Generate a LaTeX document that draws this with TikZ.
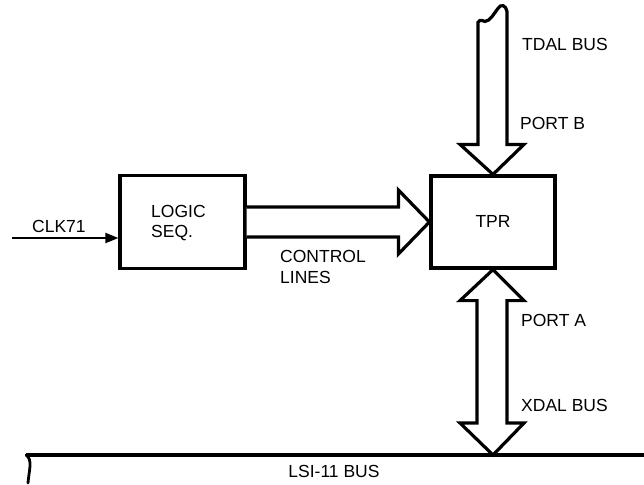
\documentclass[tikz,border=0pt]{standalone}
\usepackage{fontspec}
\setmainfont{Liberation Sans}
\usetikzlibrary{calc,arrows.meta}
\begin{document}
\begin{tikzpicture}[x=1pt,y=-1pt,
  txt/.style={font=\fontsize{17.5}{20.5}\selectfont,inner sep=0pt},
  box/.style={draw,line width=3.2pt,minimum width=125pt,minimum height=93pt,inner sep=0pt},
  fat/.style={draw,fill=white,line width=3.2pt,line join=miter},
  lbl/.style={txt,anchor=west},
  sig/.style={line width=2pt,-{Triangle[length=13pt,width=10pt]}}]
\useasboundingbox (0,0) rectangle (644,484);

% blocks
\node[box] (logic) at (182.5,222) {};
\node[lbl,align=left] (logictxt) at (151,223) {LOGIC\\[0pt]SEQ.};
\node[box,minimum width=124pt,minimum height=92pt] (tpr) at (493,222) {};
\node[txt] (tprtxt) at (493,221) {TPR};

% clock input
\coordinate (clkin) at (12,238);
\draw[sig] (clkin) -- (logic.west |- clkin);
\node[lbl] (clk) at (32,226.5) {CLK71};

% control lines into TPR
\draw[fat] ($(logic.east)+(0,-15)$) -- ($(tpr.west)+(-31,-15)$) -- ($(tpr.west)+(-31,-32)$)
  -- (tpr.west) -- ($(tpr.west)+(-31,32)$) -- ($(tpr.west)+(-31,15)$) -- ($(logic.east)+(0,15)$);
\node[lbl,align=left] (ctl) at (280,267) {CONTROL\\[0pt]LINES};

% TDAL bus, port B (broken off at the top)
\draw[fat] ($(tpr.north)+(-15,-152)$) -- ($(tpr.north)+(-15,-30)$) -- ($(tpr.north)+(-33,-30)$)
  -- (tpr.north) -- ($(tpr.north)+(31,-30)$) -- ($(tpr.north)+(14,-30)$) -- ($(tpr.north)+(14,-163)$)
  .. controls ($(tpr.north)+(13,-169)$) and ($(tpr.north)+(8,-171)$) .. ($(tpr.north)+(5,-166)$)
  .. controls ($(tpr.north)+(1,-161)$) and ($(tpr.north)+(-3,-153)$) .. ($(tpr.north)+(-8,-153)$)
  .. controls ($(tpr.north)+(-11,-153)$) and ($(tpr.north)+(-12,-156)$) .. cycle;
\node[lbl] (tdal) at (522,44) {TDAL BUS};
\node[lbl] (portb) at (520,123) {PORT B};

% LSI-11 bus
\coordinate (busl) at (26,455);
\coordinate (busr) at (644,455);
\coordinate (busx) at (tpr.south |- busl);
\draw[line width=3.2pt] (busl) -- (busr);
\draw[line width=2.8pt,line cap=round] (busl) .. controls (33,460) and (29,470) .. (28,483);
\node[txt] (lsi) at (334,471) {LSI-11 BUS};

% XDAL bus, port A (bidirectional)
\draw[fat] (tpr.south) -- ($(tpr.south)+(31,31)$) -- ($(tpr.south)+(14,31)$) -- ($(busx)+(14,-32)$)
  -- ($(busx)+(31,-32)$) -- (busx) -- ($(busx)+(-33,-32)$) -- ($(busx)+(-16,-32)$)
  -- ($(tpr.south)+(-16,31)$) -- ($(tpr.south)+(-33,31)$) -- cycle;
\node[lbl] (porta) at (521,320) {PORT A};
\node[lbl] (xdal) at (521,405) {XDAL BUS};
\end{tikzpicture}
\end{document}
